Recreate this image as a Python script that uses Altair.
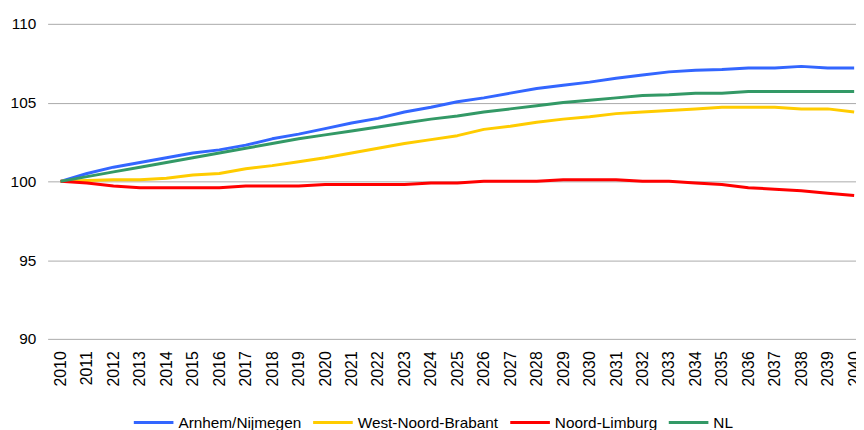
import altair as alt
import pandas as pd

years = list(range(2010, 2041))

series_names = ["Arnhem/Nijmegen", "West-Noord-Brabant", "Noord-Limburg", "NL"]
series_colors = ["#3366ff", "#ffcc00", "#ff0000", "#339966"]

arnhem_nijmegen = [100.0, 100.5, 100.9, 101.2, 101.5, 101.8, 102.0, 102.3, 102.7, 103.0,
                   103.35, 103.7, 104.0, 104.4, 104.7, 105.05, 105.3, 105.6, 105.9, 106.1,
                   106.3, 106.55, 106.75, 106.95, 107.05, 107.1, 107.2, 107.2, 107.3, 107.2,
                   107.2]
west_noord_brabant = [100.0, 100.05, 100.1, 100.1, 100.2, 100.4, 100.5, 100.8, 101.0, 101.25,
                      101.5, 101.8, 102.1, 102.4, 102.65, 102.9, 103.3, 103.5, 103.75, 103.95,
                      104.1, 104.3, 104.4, 104.5, 104.6, 104.7, 104.7, 104.7, 104.6, 104.6,
                      104.4]
noord_limburg = [100.0, 99.9, 99.7, 99.6, 99.6, 99.6, 99.6, 99.7, 99.7, 99.7,
                 99.8, 99.8, 99.8, 99.8, 99.9, 99.9, 100.0, 100.0, 100.0, 100.1,
                 100.1, 100.1, 100.0, 100.0, 99.9, 99.8, 99.6, 99.5, 99.4, 99.25,
                 99.1]
nl = [100.0, 100.3, 100.6, 100.9, 101.2, 101.5, 101.8, 102.1, 102.4, 102.7,
      102.95, 103.2, 103.45, 103.7, 103.95, 104.15, 104.4, 104.6, 104.8, 105.0,
      105.15, 105.3, 105.45, 105.5, 105.6, 105.6, 105.7, 105.7, 105.7, 105.7,
      105.7]

y_ticks = [90, 95, 100, 105, 110]

values_by_series = [arnhem_nijmegen, west_noord_brabant, noord_limburg, nl]
rows = []
for name, vals in zip(series_names, values_by_series):
    for yr, v in zip(years, vals):
        rows.append({"jaar": yr, "reeks": name, "index": v, "order": series_names.index(name)})
df = pd.DataFrame(rows)

FONT = "Liberation Sans"

chart = (
    alt.Chart(df)
    .mark_line(strokeWidth=3, strokeJoin="round")
    .encode(
        x=alt.X(
            "jaar:Q",
            scale=alt.Scale(domain=[2009.51, 2040.07], nice=False, zero=False),
            axis=alt.Axis(
                title=None,
                values=years,
                format="d",
                labelAngle=270,
                labelFontSize=16,
                labelFont=FONT,
                labelColor="#000000",
                labelPadding=12,
                ticks=False,
                grid=False,
                domain=False,
                labelOverlap=False,
                labelFlush=False,
            ),
        ),
        y=alt.Y(
            "index:Q",
            scale=alt.Scale(domain=[90, 110], nice=False, zero=False),
            axis=alt.Axis(
                title=None,
                values=y_ticks,
                labelFontSize=15.5,
                labelFont=FONT,
                labelColor="#000000",
                labelPadding=12,
                ticks=False,
                domain=False,
                grid=True,
                gridColor="#aaaaaa",
                gridWidth=1,
            ),
        ),
        color=alt.Color(
            "reeks:N",
            scale=alt.Scale(domain=series_names, range=series_colors),
            legend=alt.Legend(
                title=None,
                orient="none",
                legendX=85.5,
                legendY=381,
                direction="horizontal",
                symbolType="stroke",
                symbolSize=1600,
                symbolStrokeWidth=3,
                labelFontSize=15.5,
                labelFont=FONT,
                labelColor="#000000",
                labelOffset=3.5,
                columnPadding=5,
            ),
        ),
        order="order:Q",
    )
    .properties(
        width=816,
        height=318,
        autosize=alt.AutoSizeParams(type="none"),
        padding={"left": 40, "top": 14, "right": 0, "bottom": 90},
        view=alt.ViewBackground(stroke="transparent", strokeWidth=0),
    )
    .configure_view(strokeWidth=0, stroke="transparent")
    .configure(background="#ffffff")
)

chart.save("out.html", embed_options={"renderer": "svg", "actions": False})
